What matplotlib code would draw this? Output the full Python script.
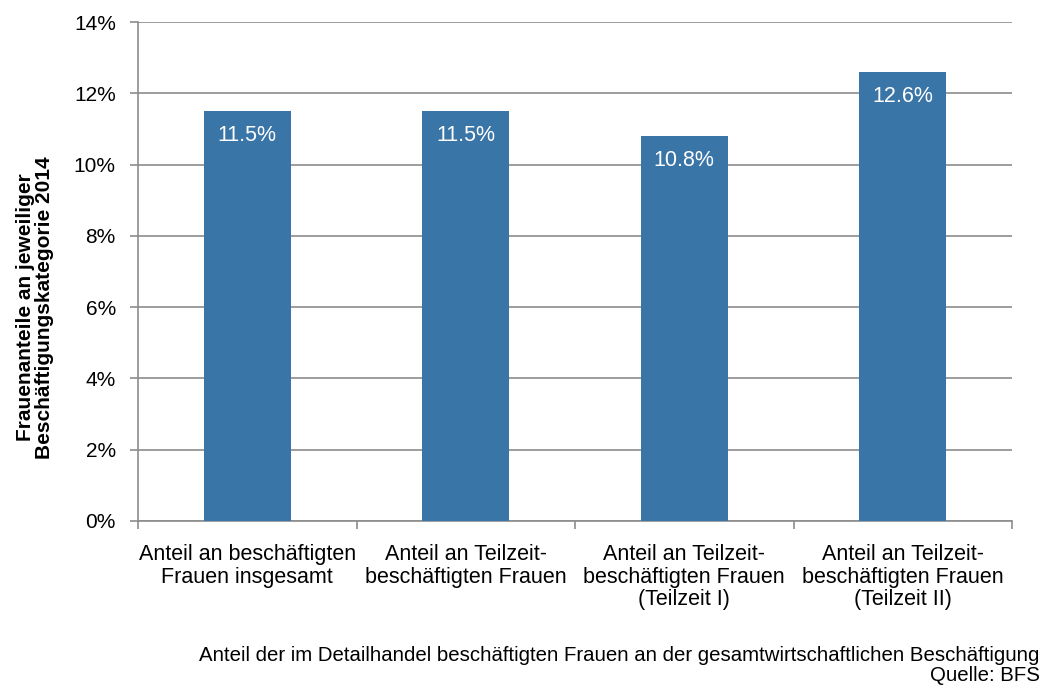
import numpy as np
import matplotlib.pyplot as plt
from matplotlib.ticker import FuncFormatter, FixedLocator

plt.rcParams["font.family"] = ["Liberation Sans", "DejaVu Sans"]

categories = [
    "Anteil an beschäftigten\nFrauen insgesamt",
    "Anteil an Teilzeit-\nbeschäftigten Frauen",
    "Anteil an Teilzeit-\nbeschäftigten Frauen\n(Teilzeit I)",
    "Anteil an Teilzeit-\nbeschäftigten Frauen\n(Teilzeit II)",
]
values = [11.5, 11.5, 10.8, 12.6]
bar_labels = ["11.5%", "11.5%", "10.8%", "12.6%"]

bar_color = "#3A75A8"
grey = "#8C8C8C"

fig = plt.figure(figsize=(10.46, 6.88), dpi=100)
ax = fig.add_axes([0.132, 0.243, 0.8355, 0.725])

x = np.arange(len(categories))
ax.bar(x, values, width=0.4, color=bar_color, zorder=3)
for xi, v, lab in zip(x, values, bar_labels):
    ax.text(xi, v - 0.68, lab, ha="center", va="center", color="white", fontsize=15.5, zorder=4)

ax.set_xlim(-0.5, len(categories) - 0.5)
ax.set_ylim(0, 14)
ax.set_yticks(range(0, 15, 2))
ax.yaxis.set_major_formatter(FuncFormatter(lambda v, p: f"{v:.0f}%"))
ax.yaxis.grid(True, color=grey, linewidth=1.2, zorder=0)

ax.set_xticks(x)
ax.set_xticklabels(categories, fontsize=15.5, linespacing=1.08)
ax.tick_params(axis="x", which="major", length=0, pad=17)
ax.xaxis.set_minor_locator(FixedLocator(np.arange(-0.5, len(categories), 1.0)))
ax.tick_params(axis="x", which="minor", length=6, color=grey, width=1.2, direction="out")
ax.tick_params(axis="y", length=6, color=grey, width=1.2, labelsize=15, pad=10)

for side in ["top", "right"]:
    ax.spines[side].set_visible(False)
for side in ["left", "bottom"]:
    ax.spines[side].set_color(grey)
    ax.spines[side].set_linewidth(1.2)

# y label placed by hand, it sits a bit below the axes centre in the original
fig.text(0.033, 0.553, "Frauenanteile an jeweiliger\nBeschäftigungskategorie 2014",
         rotation=90, ha="center", va="center", fontsize=15, fontweight="bold",
         linespacing=1.0, multialignment="center")

fig.text(0.994, 0.004,
         "Anteil der im Detailhandel beschäftigten Frauen an der gesamtwirtschaftlichen Beschäftigung\nQuelle: BFS",
         ha="right", va="bottom", fontsize=14.7, linespacing=1.05)

fig.savefig("out.png", dpi=100)
